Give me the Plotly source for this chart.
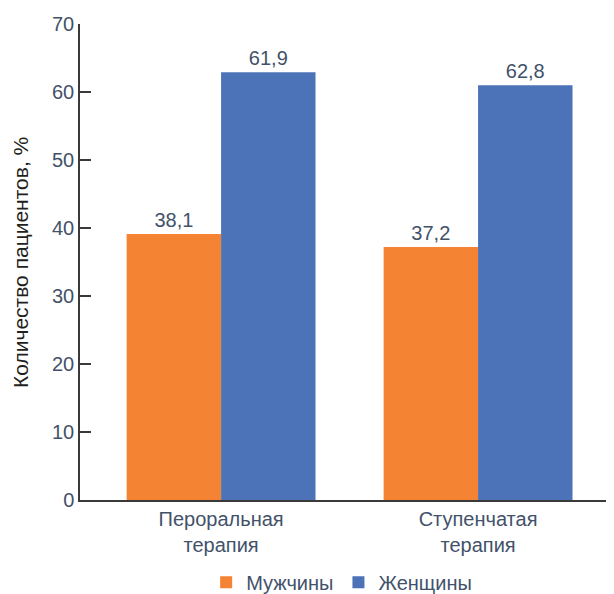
import plotly.graph_objects as go

categories = ["Пероральная<br>терапия", "Ступенчатая<br>терапия"]
series_names = ["Мужчины", "Женщины"]
men_heights = [39.1, 37.2]
women_heights = [62.9, 61.0]
men_labels = ["38,1", "37,2"]
women_labels = ["61,9", "62,8"]
y_ticks = [0, 10, 20, 30, 40, 50, 60, 70]

ORANGE = "#F58334"
BLUE = "#4C72B7"
TEXT = "#42526A"
FONT = "Liberation Sans, Arial, sans-serif"

fig = go.Figure()
fig.add_trace(go.Bar(
    name=series_names[0], x=[0, 1], y=men_heights,
    marker=dict(color=ORANGE, line=dict(width=0)),
    text=men_labels, textposition="outside", cliponaxis=False,
    textfont=dict(size=20, color=TEXT, family=FONT),
))
fig.add_trace(go.Bar(
    name=series_names[1], x=[0, 1], y=women_heights,
    marker=dict(color=BLUE, line=dict(width=0)),
    text=women_labels, textposition="outside", cliponaxis=False,
    textfont=dict(size=20, color=TEXT, family=FONT),
))

fig.update_layout(
    width=606, height=586,
    margin=dict(l=72, r=0, t=16, b=94, autoexpand=False),
    paper_bgcolor="white", plot_bgcolor="white",
    barmode="group", bargap=0.265, bargroupgap=0,
    font=dict(family=FONT, size=20, color=TEXT),
    showlegend=True,
    legend=dict(orientation="h", x=0.49, xanchor="center", y=-0.132, yanchor="top",
                font=dict(size=20, color=TEXT, family=FONT),
                itemclick=False, itemdoubleclick=False,
                traceorder="normal"),
    xaxis=dict(
        range=[-0.549, 1.529], tickmode="array", tickvals=[0, 1], ticktext=categories,
        showline=True, linecolor="#3a3a3a", linewidth=1.5, ticks="",
        showgrid=False, zeroline=False, automargin=False,
        tickfont=dict(size=20, color=TEXT, family=FONT),
    ),
    yaxis=dict(
        range=[0, 70], tickmode="array", tickvals=y_ticks,
        showline=True, linecolor="#3a3a3a", linewidth=1.5,
        ticks="inside", ticklen=11, tickwidth=1.5, tickcolor="#3a3a3a",
        showgrid=False, zeroline=False, automargin=False,
        tickfont=dict(size=20, color=TEXT, family=FONT),
    ),
    annotations=[dict(
        text="Количество пациентов, %", xref="paper", yref="paper",
        x=-0.1124, y=0.5, xanchor="center", yanchor="middle", textangle=-90,
        showarrow=False, font=dict(size=21, color="#231F20", family=FONT),
    )],
)

fig.write_html("out.html")
